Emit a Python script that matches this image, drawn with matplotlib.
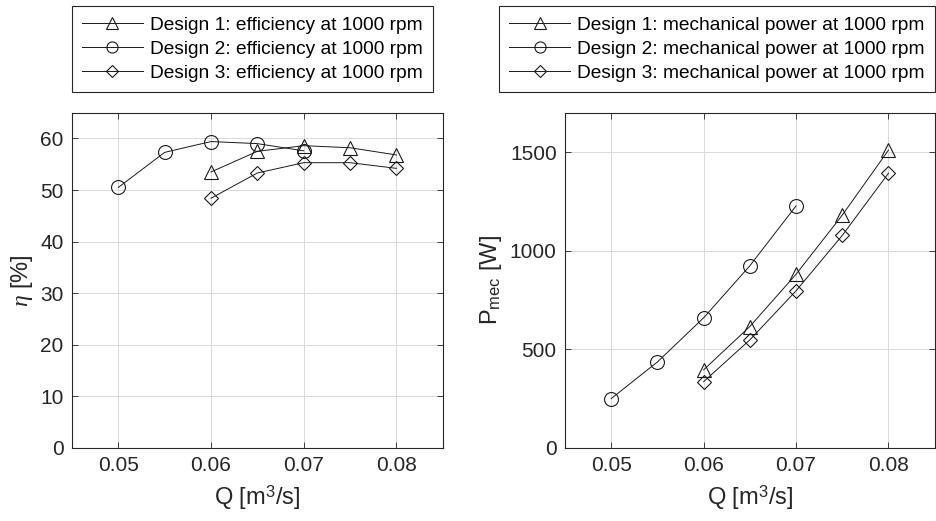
import matplotlib
matplotlib.use('Agg')
import matplotlib.pyplot as plt

# data
q1 = [0.060, 0.065, 0.070, 0.075, 0.080]
q2 = [0.050, 0.055, 0.060, 0.065, 0.070]
q3 = [0.060, 0.065, 0.070, 0.075, 0.080]

eta1 = [53.5, 57.5, 58.6, 58.2, 56.8]
eta2 = [50.5, 57.3, 59.4, 59.0, 57.6]
eta3 = [48.4, 53.3, 55.3, 55.3, 54.2]

pw1 = [395, 615, 880, 1180, 1510]
pw2 = [249, 435, 659, 923, 1227]
pw3 = [335, 547, 796, 1077, 1393]

eff_labels = ['Design 1: efficiency at 1000 rpm',
              'Design 2: efficiency at 1000 rpm',
              'Design 3: efficiency at 1000 rpm']
pw_labels = ['Design 1: mechanical power at 1000 rpm',
             'Design 2: mechanical power at 1000 rpm',
             'Design 3: mechanical power at 1000 rpm']

plt.rcParams['font.family'] = ['Liberation Sans', 'DejaVu Sans']
plt.rcParams['mathtext.fontset'] = 'custom'
plt.rcParams['mathtext.rm'] = 'Liberation Sans'
plt.rcParams['mathtext.it'] = 'Liberation Serif:italic'

dark = '#262626'
markers = ['^', 'o', 'D']
msizes = [10, 10, 7.5]

fig = plt.figure(figsize=(9.36, 5.21), dpi=100)
ax1 = fig.add_axes([0.0769, 0.1407, 0.3961, 0.643])
ax2 = fig.add_axes([0.6036, 0.1407, 0.3950, 0.643])


def style(ax, ylim, yticks):
    ax.set_xlim(0.045, 0.085)
    ax.set_ylim(*ylim)
    ax.set_xticks([0.05, 0.06, 0.07, 0.08])
    ax.set_xticklabels(['0.05', '0.06', '0.07', '0.08'])
    ax.set_yticks(yticks)
    ax.grid(True, color='#d9d9d9', linewidth=0.7)
    ax.set_axisbelow(True)
    ax.tick_params(direction='in', length=4, width=0.6, colors=dark,
                   labelsize=15, pad=6, top=True, right=True,
                   labeltop=False, labelright=False)
    for s in ax.spines.values():
        s.set_color(dark)
        s.set_linewidth(0.8)
    ax.set_xlabel(r'Q [m$^3$/s]', fontsize=17, color=dark, labelpad=6)


series = [(q1, eta1, pw1), (q2, eta2, pw2), (q3, eta3, pw3)]
for i, (q, e, p) in enumerate(series):
    ax1.plot(q, e, color='#1a1a1a', linewidth=0.7, marker=markers[i],
             markersize=msizes[i], markerfacecolor='none',
             markeredgecolor='#1a1a1a', markeredgewidth=0.8,
             label=eff_labels[i])
    ax2.plot(q, p, color='#1a1a1a', linewidth=0.7, marker=markers[i],
             markersize=msizes[i], markerfacecolor='none',
             markeredgecolor='#1a1a1a', markeredgewidth=0.8,
             label=pw_labels[i])

style(ax1, (0, 65), [0, 10, 20, 30, 40, 50, 60])
style(ax2, (0, 1700), [0, 500, 1000, 1500])
ax1.set_ylabel(r'$\eta$ [%]', fontsize=17, color=dark, labelpad=4)
ax2.set_ylabel(r'P$_{\mathrm{mec}}$ [W]', fontsize=17, color=dark, labelpad=4)

for ax, anchor in [(ax1, (433 / 936, 1 - 6 / 521)), (ax2, (935 / 936, 1 - 6 / 521))]:
    leg = ax.legend(loc='upper right', bbox_to_anchor=anchor,
                    bbox_transform=fig.transFigure, fontsize=13.8,
                    handlelength=3.15, handletextpad=0.37, labelspacing=0.34,
                    borderpad=0.55, borderaxespad=0, fancybox=False,
                    framealpha=1, markerscale=0.8)
    leg.get_frame().set_edgecolor(dark)
    leg.get_frame().set_linewidth(0.8)

fig.savefig('out.png', dpi=100)
